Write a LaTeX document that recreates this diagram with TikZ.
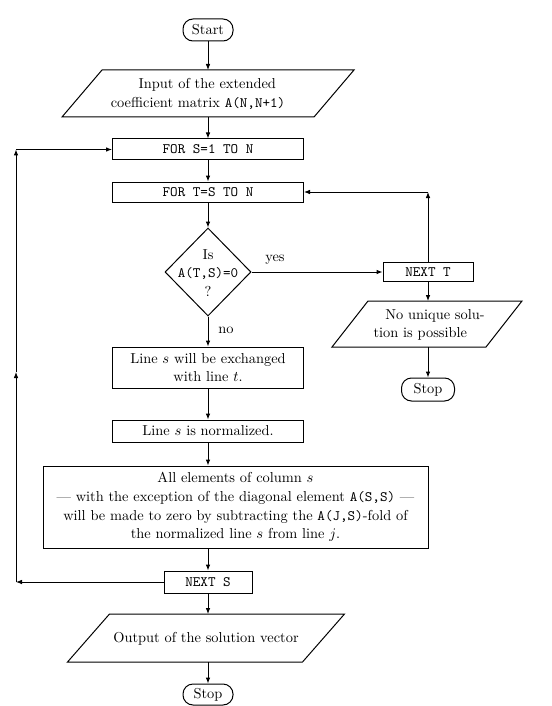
\documentclass[tikz,border=0pt]{standalone}
\usetikzlibrary{arrows.meta,shapes.geometric}
\begin{document}
\begin{tikzpicture}[x=0.75pt,y=-0.75pt,
  font=\fontsize{10.8}{14}\selectfont, line width=0.75pt,
  box/.style={draw, rectangle, inner sep=0pt, align=center},
  term/.style={draw, rectangle, rounded corners=7.5pt, inner sep=0pt},
  plain/.style={inner sep=0pt, align=center},
  arr/.style={-{Latex[length=4.5pt,width=3.5pt]}},
  pgram/.style={draw, line join=miter}]
\useasboundingbox (0,0) rectangle (552,706);

% main column
\node[term, minimum width=37.5pt, minimum height=16.5pt] (start) at (208,30) {Start};

\node[plain] (inp) at (198,94) {\hspace*{14pt}Input of the extended\\coefficient matrix \texttt{A(N,N+1)}};
\draw[pgram] (102,70) -- (354,70) -- (314,117) -- (62,117) -- cycle;
\coordinate (inpN) at (208,70);
\coordinate (inpS) at (208,117);

\node[box, minimum width=143.25pt, minimum height=15.75pt] (fors) at (208,149.5) {\texttt{FOR S=1 TO N}};
\node[box, minimum width=143.25pt, minimum height=15pt] (fort) at (208,192) {\texttt{FOR T=S TO N}};

\node[draw, diamond, minimum width=64.5pt, minimum height=66pt, inner sep=0pt] (dec) at (208,272) {};
\node[plain] (dectext) at (208,273) {Is\\\texttt{A(T,S)=0}\\?};

\node[box, minimum width=143.25pt, minimum height=30.75pt] (exch) at (208,367.5) {Line $s$ will be exchanged\\with line $t$.};
\node[box, minimum width=143.25pt, minimum height=16.5pt] (norm) at (208,431) {Line $s$ is normalized.};
\node[box, minimum width=288.75pt, minimum height=61.5pt] (big) at (235.5,507) {All elements of column $s$\\--- with the exception of the diagonal element \texttt{A(S,S)} ---\\will be made to zero by subtracting the \texttt{A(J,S)}-fold of\\the normalized line $s$ from line $j$.};
\node[box, minimum width=66pt, minimum height=16.5pt] (nexts) at (208,582) {\texttt{NEXT S}};

\node[plain] (outp) at (206,639) {Output of the solution vector};
\draw[pgram] (109.5,614) -- (344.5,614) -- (302.5,662) -- (67.5,662) -- cycle;
\coordinate (outN) at (208,614);
\coordinate (outS) at (208,662);

\node[term, minimum width=37.5pt, minimum height=15.75pt] (stop) at (208,694.5) {Stop};

% right branch
\node[box, minimum width=67.5pt, minimum height=14.25pt] (nextt) at (428,272) {\texttt{NEXT T}};
\node[plain] (nus) at (427,325) {\hspace*{12pt}No unique solu-\\tion is possible\hspace*{10pt}};
\draw[pgram] (368,301) -- (522,301) -- (486,347) -- (332,347) -- cycle;
\coordinate (nusN) at (428,301);
\coordinate (nusS) at (428,347);
\node[term, minimum width=39.75pt, minimum height=17.25pt] (stopr) at (428,389.5) {Stop};

% loop corners
\coordinate (c1) at (16,582);
\coordinate (cm) at (16,372);
\coordinate (c2) at (16,149.5);
\coordinate (c3) at (428,192);

% connectors
\draw[arr] (start.south) -- (inpN);
\draw[arr] (inpS) -- (fors.north);
\draw[arr] (fors.south) -- (fort.north);
\draw[arr] (fort.south) -- (dec.north);
\draw[arr] (dec.south) -- node[pos=0.45, right=4pt] (nolab) {no} (exch.north);
\draw[arr] (exch.south) -- (norm.north);
\draw[arr] (norm.south) -- (norm.south |- big.north);
\draw[arr] (nexts |- big.south) -- (nexts.north);
\draw[arr] (nexts.south) -- (outN);
\draw[arr] (outS) -- (stop.north);

\draw[arr] (dec.east) -- (nextt.west);
\node (yeslab) at (275,260) {yes};
\draw[arr] (nextt.south) -- (nusN);
\draw[arr] (nusS) -- (stopr.north);
\draw[arr] (nextt.north) -- (c3);
\draw[arr] (c3) -- (fort.east);

\draw[arr] (nexts.west) -- (c1);
\draw[arr] (c1) -- (cm);
\draw[arr] (cm) -- (c2);
\draw[arr] (c2) -- (fors.west);
\end{tikzpicture}
\end{document}
